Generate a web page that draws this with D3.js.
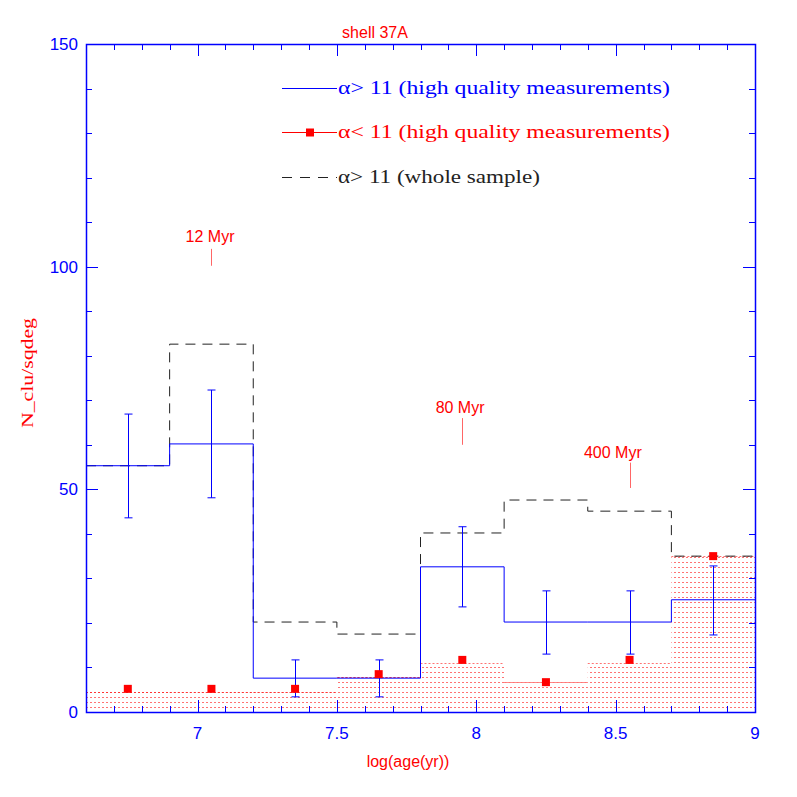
<!DOCTYPE html>
<html><head><meta charset="utf-8">
<script src="https://cdn.jsdelivr.net/npm/d3@7"></script>
<style>body{margin:0;background:#fff}svg{display:block}</style>
</head><body>
<script>
// ---- data ----
const binLeft = [6.6, 6.9, 7.2, 7.5, 7.8, 8.1, 8.4, 8.7];
const binRight = [6.9, 7.2, 7.5, 7.8, 8.1, 8.4, 8.7, 9.0];
const binCenter = [6.75, 7.05, 7.35, 7.65, 7.95, 8.25, 8.55, 8.85];
const highQualityHigh = [55.3, 60.2, 7.6, 7.6, 32.6, 20.2, 20.2, 25.2];
const errLow = [43.6, 48.1, 3.4, 3.4, 23.6, 13.0, 13.0, 17.3];
const errHigh = [66.9, 72.3, 11.7, 11.7, 41.6, 27.2, 27.2, 32.8];
const wholeSample = [55.3, 82.6, 20.2, 17.5, 40.2, 47.6, 45.1, 35.0];
const lowHist = [4.5, 4.5, 4.5, 7.9, 11.0, 6.7, 11.0, 35.0];
const lowPoints = [5.2, 5.2, 5.2, 8.5, 11.7, 6.7, 11.7, 35.0];
const xTicks = [7, 7.5, 8, 8.5, 9];
const yTicks = [0, 50, 100, 150];
const annLabels = ["12 Myr", "80 Myr", "400 Myr"];
const annX = [7.05, 7.95, 8.55];
const annY0 = [100.2, 60.0, 50.3];
const annY1 = [104.0, 66.0, 56.0];
const annLabelX = [7.045, 7.942, 8.49];
const annLabelY = [105.5, 67.1, 57.0];
const legendLabels = ["α> 11 (high quality measurements)", "α< 11 (high quality measurements)", "α> 11 (whole sample)"];

const W = 797, H = 797;
const L = 86, R = 755, T = 44, B = 712;
const blue = "#0000ff", red = "#ff0000";

const svg = d3.select("body").append("svg").attr("width", W).attr("height", H);
const x = d3.scaleLinear().domain([6.6, 9]).range([L, R]);
const y = d3.scaleLinear().domain([0, 150]).range([B, T]);

// hatch pattern
const defs = svg.append("defs");
const pat = defs.append("pattern").attr("id", "hatch").attr("patternUnits", "userSpaceOnUse")
  .attr("x", L).attr("y", B).attr("width", 4).attr("height", 5);
pat.append("rect").attr("x", 0).attr("y", 0).attr("width", 2).attr("height", 1).attr("fill", red).attr("opacity", 0.55);

// red hatched histogram
svg.append("g").selectAll("rect").data(lowHist).join("rect")
  .attr("x", (d, i) => x(binLeft[i])).attr("width", (d, i) => x(binRight[i]) - x(binLeft[i]))
  .attr("y", d => y(d)).attr("height", d => y(0) - y(d)).attr("fill", "url(#hatch)");
svg.append("g").selectAll("line").data(lowHist).join("line")
  .attr("x1", (d, i) => x(binLeft[i])).attr("x2", (d, i) => x(binRight[i]))
  .attr("y1", d => Math.round(y(d)) + 0.5).attr("y2", d => Math.round(y(d)) + 0.5)
  .attr("stroke", red).attr("stroke-opacity", 0.55).attr("stroke-dasharray", "2,2");

// step lines
function stepPts(vals) {
  const pts = vals.map((v, i) => [binLeft[i], v]);
  pts.push([binRight[binRight.length - 1], vals[vals.length - 1]]);
  return pts;
}
const stepLine = d3.line().x(d => x(d[0])).y(d => y(d[1])).curve(d3.curveStepAfter);
svg.append("path").attr("d", stepLine(stepPts(wholeSample))).attr("fill", "none")
  .attr("stroke", "#222").attr("stroke-width", 1).attr("stroke-dasharray", "10,7");
svg.append("path").attr("d", stepLine(stepPts(highQualityHigh))).attr("fill", "none")
  .attr("stroke", blue).attr("stroke-width", 1);

// error bars
const eb = svg.append("g").attr("stroke", blue).attr("stroke-width", 1);
binCenter.forEach((c, i) => {
  const cx = Math.round(x(c)) + 0.5;
  eb.append("line").attr("x1", cx).attr("x2", cx).attr("y1", y(errLow[i])).attr("y2", y(errHigh[i]));
  eb.append("line").attr("x1", cx - 4).attr("x2", cx + 4).attr("y1", y(errLow[i])).attr("y2", y(errLow[i]));
  eb.append("line").attr("x1", cx - 4).attr("x2", cx + 4).attr("y1", y(errHigh[i])).attr("y2", y(errHigh[i]));
});

// red points
svg.append("g").selectAll("rect").data(lowPoints).join("rect")
  .attr("x", (d, i) => x(binCenter[i]) - 4).attr("y", d => y(d) - 4)
  .attr("width", 8).attr("height", 8).attr("fill", red);

// annotations
annLabels.forEach((t, i) => {
  svg.append("line").attr("x1", Math.round(x(annX[i])) + 0.5).attr("x2", Math.round(x(annX[i])) + 0.5)
    .attr("y1", y(annY0[i])).attr("y2", y(annY1[i])).attr("stroke", red).attr("stroke-opacity", 0.6);
  svg.append("text").attr("x", x(annLabelX[i])).attr("y", y(annLabelY[i])).attr("text-anchor", "middle")
    .attr("font-family", "Liberation Sans, Arial, sans-serif").attr("font-size", 16).attr("fill", red).text(t);
});

// axes (ticks inward on all four sides)
const ax = svg.append("g").attr("stroke", blue).attr("stroke-width", 1).attr("fill", "none");
ax.append("rect").attr("x", L + 0.5).attr("y", T + 0.5).attr("width", R - L).attr("height", B - T).attr("stroke-width", 1.5);
const xMinor = d3.range(66, 91).map(v => v / 10);
xMinor.forEach(v => {
  const major = Math.abs(v * 2 - Math.round(v * 2)) < 1e-6;
  const len = major ? 12 : 6;
  const px = Math.round(x(v)) + 0.5;
  ax.append("line").attr("x1", px).attr("x2", px).attr("y1", B).attr("y2", B - len);
  ax.append("line").attr("x1", px).attr("x2", px).attr("y1", T).attr("y2", T + len);
});
d3.range(0, 151, 10).forEach(v => {
  const major = v % 50 === 0;
  const len = major ? 12 : 6;
  const py = Math.round(y(v)) + 0.5;
  ax.append("line").attr("x1", L).attr("x2", L + len).attr("y1", py).attr("y2", py);
  ax.append("line").attr("x1", R).attr("x2", R - len).attr("y1", py).attr("y2", py);
});
svg.append("g").selectAll("text").data(xTicks).join("text")
  .attr("x", d => x(d)).attr("y", 739).attr("text-anchor", "middle")
  .attr("font-family", "Liberation Sans, Arial, sans-serif").attr("font-size", 17).attr("fill", blue)
  .text(d => d);
svg.append("g").selectAll("text").data(yTicks).join("text")
  .attr("x", 78).attr("y", d => y(d) + 6).attr("text-anchor", "end")
  .attr("font-family", "Liberation Sans, Arial, sans-serif").attr("font-size", 17).attr("fill", blue)
  .text(d => d);

// titles
svg.append("text").attr("x", 375).attr("y", 38).attr("text-anchor", "middle")
  .attr("font-family", "Liberation Sans, Arial, sans-serif").attr("font-size", 16).attr("fill", red).text("shell 37A");
svg.append("text").attr("x", 408).attr("y", 767).attr("text-anchor", "middle")
  .attr("font-family", "Liberation Sans, Arial, sans-serif").attr("font-size", 16).attr("fill", red).text("log(age(yr))");
svg.append("text").attr("transform", "translate(33,373) rotate(-90)").attr("text-anchor", "middle")
  .attr("font-family", "Liberation Serif, serif").attr("font-size", 16).attr("fill", red)
  .attr("textLength", 110).attr("lengthAdjust", "spacingAndGlyphs").text("N_clu/sqdeg");

// legend
const lg = svg.append("g");
const legY = [88, 132, 177];
const legColor = [blue, red, "#222"];
const legEnd = [670, 670, 540];
legendLabels.forEach((t, i) => {
  const ln = lg.append("line").attr("x1", 282).attr("x2", 337).attr("y1", legY[i] + 0.5).attr("y2", legY[i] + 0.5)
    .attr("stroke", legColor[i]).attr("stroke-width", 1);
  if (i === 2) ln.attr("stroke-dasharray", "10,8");
  if (i === 1) lg.append("rect").attr("x", 306).attr("y", legY[i] - 3.5).attr("width", 8).attr("height", 8).attr("fill", red);
  lg.append("text").attr("x", 338).attr("y", legY[i] + 6).attr("font-family", "Liberation Serif, serif")
    .attr("font-size", 18).attr("fill", legColor[i])
    .attr("textLength", legEnd[i] - 338).attr("lengthAdjust", "spacingAndGlyphs").text(t);
});
</script>
</body></html>
